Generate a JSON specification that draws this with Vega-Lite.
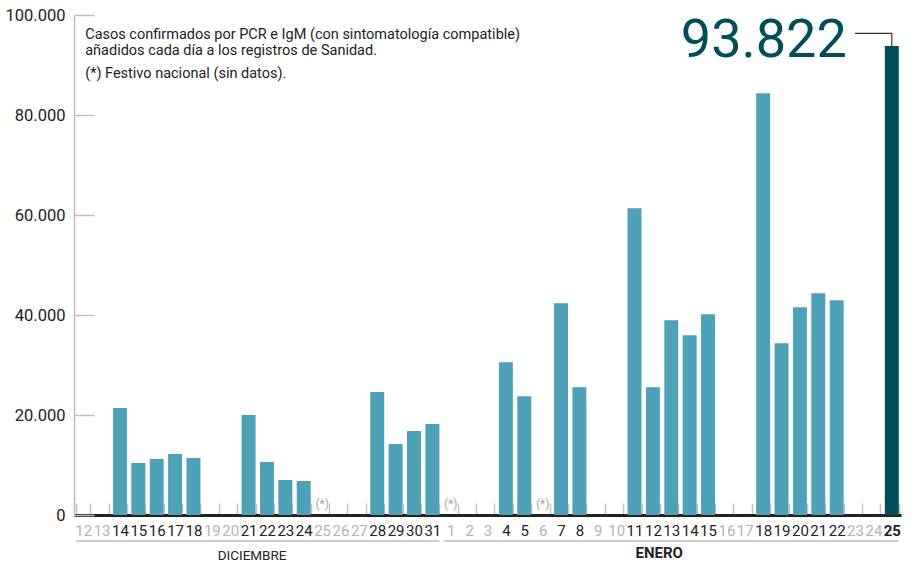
{
  "$schema": "https://vega.github.io/schema/vega-lite/v6.json",
  "width": 827,
  "height": 500,
  "autosize": {"type": "none"},
  "padding": {"left": 74, "top": 15, "right": 17, "bottom": 47},
  "background": "white",
  "config": {"view": {"stroke": null}, "font": "Roboto"},
  "data": {"values": [
    {"fecha": "2020-12-12", "casos": null},
    {"fecha": "2020-12-13", "casos": null},
    {"fecha": "2020-12-14", "casos": 21400},
    {"fecha": "2020-12-15", "casos": 10400},
    {"fecha": "2020-12-16", "casos": 11200},
    {"fecha": "2020-12-17", "casos": 12200},
    {"fecha": "2020-12-18", "casos": 11400},
    {"fecha": "2020-12-19", "casos": null},
    {"fecha": "2020-12-20", "casos": null},
    {"fecha": "2020-12-21", "casos": 20000},
    {"fecha": "2020-12-22", "casos": 10600},
    {"fecha": "2020-12-23", "casos": 7000},
    {"fecha": "2020-12-24", "casos": 6800},
    {"fecha": "2020-12-25", "casos": null, "festivo": true},
    {"fecha": "2020-12-26", "casos": null},
    {"fecha": "2020-12-27", "casos": null},
    {"fecha": "2020-12-28", "casos": 24600},
    {"fecha": "2020-12-29", "casos": 14200},
    {"fecha": "2020-12-30", "casos": 16800},
    {"fecha": "2020-12-31", "casos": 18200},
    {"fecha": "2021-01-01", "casos": null, "festivo": true},
    {"fecha": "2021-01-02", "casos": null},
    {"fecha": "2021-01-03", "casos": null},
    {"fecha": "2021-01-04", "casos": 30540},
    {"fecha": "2021-01-05", "casos": 23740},
    {"fecha": "2021-01-06", "casos": null, "festivo": true},
    {"fecha": "2021-01-07", "casos": 42340},
    {"fecha": "2021-01-08", "casos": 25540},
    {"fecha": "2021-01-09", "casos": null},
    {"fecha": "2021-01-10", "casos": null},
    {"fecha": "2021-01-11", "casos": 61340},
    {"fecha": "2021-01-12", "casos": 25540},
    {"fecha": "2021-01-13", "casos": 38940},
    {"fecha": "2021-01-14", "casos": 35940},
    {"fecha": "2021-01-15", "casos": 40140},
    {"fecha": "2021-01-16", "casos": null},
    {"fecha": "2021-01-17", "casos": null},
    {"fecha": "2021-01-18", "casos": 84340},
    {"fecha": "2021-01-19", "casos": 34340},
    {"fecha": "2021-01-20", "casos": 41540},
    {"fecha": "2021-01-21", "casos": 44340},
    {"fecha": "2021-01-22", "casos": 42940},
    {"fecha": "2021-01-23", "casos": null},
    {"fecha": "2021-01-24", "casos": null},
    {"fecha": "2021-01-25", "casos": 93822}
  ]},
  "layer": [
    {
      "mark": {"type": "bar", "clip": false},
      "encoding": {
        "x": {
          "field": "fecha", "type": "ordinal", "title": null,
          "scale": {
            "domain": ["2020-12-12","2020-12-13","2020-12-14","2020-12-15","2020-12-16","2020-12-17","2020-12-18","2020-12-19","2020-12-20","2020-12-21","2020-12-22","2020-12-23","2020-12-24","2020-12-25","2020-12-26","2020-12-27","2020-12-28","2020-12-29","2020-12-30","2020-12-31","2021-01-01","2021-01-02","2021-01-03","2021-01-04","2021-01-05","2021-01-06","2021-01-07","2021-01-08","2021-01-09","2021-01-10","2021-01-11","2021-01-12","2021-01-13","2021-01-14","2021-01-15","2021-01-16","2021-01-17","2021-01-18","2021-01-19","2021-01-20","2021-01-21","2021-01-22","2021-01-23","2021-01-24","2021-01-25"],
            "paddingInner": 0.24, "paddingOuter": 0.12
          },
          "axis": {
            "labelExpr": "toNumber(split(datum.value, '-')[2])",
            "labelAngle": 0,
            "labelFont": "Roboto",
            "labelFontSize": 15,
            "labelPadding": 20,
            "labelColor": {"condition": {"test": "datum.value == '2020-12-12' || datum.value == '2020-12-13' || datum.value == '2020-12-19' || datum.value == '2020-12-20' || datum.value == '2020-12-25' || datum.value == '2020-12-26' || datum.value == '2020-12-27' || datum.value == '2021-01-01' || datum.value == '2021-01-02' || datum.value == '2021-01-03' || datum.value == '2021-01-06' || datum.value == '2021-01-09' || datum.value == '2021-01-10' || datum.value == '2021-01-16' || datum.value == '2021-01-17' || datum.value == '2021-01-23' || datum.value == '2021-01-24'", "value": "#b3b3b3"}, "value": "#222222"},
            "labelFontWeight": {"condition": {"test": "datum.value == '2021-01-25'", "value": "bold"}, "value": "normal"},
            "domainColor": "#222222",
            "domainWidth": 3,
            "tickBand": "extent",
            "tickSize": -12,
            "tickColor": "#c4c4c4",
            "tickWidth": 1.5,
            "labelOverlap": false,
            "labelBound": false,
            "zindex": 0
          }
        },
        "y": {
          "field": "casos", "type": "quantitative", "title": null,
          "scale": {"domain": [0, 100000], "nice": false},
          "axis": {
            "values": [0, 20000, 40000, 60000, 80000, 100000],
            "labelExpr": "datum.value == 0 ? '0' : format(datum.value / 1000, 'd') + '.000'",
            "labelFont": "Roboto",
            "labelFontSize": 16.5,
            "labelColor": "#222222",
            "labelPadding": 29,
            "tickSize": -20,
            "tickColor": "#bdbdbd",
            "tickWidth": 1.5,
            "domainColor": "#bdbdbd",
            "domainWidth": 1.5,
            "grid": false,
            "zindex": 0
          }
        },
        "color": {
          "condition": {"test": "datum.fecha == '2021-01-25'", "value": "#004e5a"},
          "value": "#4ea1b7"
        }
      }
    },
    {
      "transform": [{"filter": "datum.festivo"}],
      "mark": {"type": "text", "fontSize": 12, "color": "#a6a6a6", "baseline": "middle", "dy": -11, "font": "Roboto"},
      "encoding": {
        "x": {"field": "fecha", "type": "ordinal"},
        "y": {"datum": 0},
        "text": {"value": "(*)"}
      }
    },
    {
      "data": {"values": [
        {"mes": "DICIEMBRE", "inicio": "2020-12-12", "fin": "2020-12-31"},
        {"mes": "ENERO", "inicio": "2021-01-01", "fin": "2021-01-25"}
      ]},
      "mark": {"type": "rule", "color": "#cccccc", "strokeWidth": 2, "clip": false},
      "encoding": {
        "x": {"field": "inicio", "type": "ordinal", "bandPosition": 0},
        "x2": {"field": "fin", "bandPosition": 1},
        "y": {"datum": -5200}
      }
    },
    {
      "data": {"values": [{"mes": "DICIEMBRE"}]},
      "mark": {"type": "text", "fontSize": 13.5, "color": "#222222", "baseline": "middle", "align": "center", "font": "Roboto", "clip": false},
      "encoding": {
        "x": {"datum": "2020-12-21", "bandPosition": 0.75},
        "y": {"datum": -8150},
        "text": {"field": "mes"}
      }
    },
    {
      "data": {"values": [{"mes": "ENERO"}]},
      "mark": {"type": "text", "fontSize": 15, "fontWeight": "bold", "color": "#222222", "baseline": "middle", "align": "center", "font": "Roboto", "clip": false},
      "encoding": {
        "x": {"datum": "2021-01-12", "bandPosition": 0.95},
        "y": {"datum": -7500},
        "text": {"field": "mes"}
      }
    },
    {
      "data": {"values": [
        {"linea": "Casos confirmados por PCR e IgM (con sintomatología compatible)"}
      ]},
      "mark": {"type": "text", "fontSize": 14.5, "color": "#222222", "align": "left", "baseline": "alphabetic", "dx": 2, "font": "Roboto"},
      "encoding": {
        "x": {"datum": "2020-12-12"},
        "y": {"datum": 95300},
        "text": {"field": "linea"}
      }
    },
    {
      "data": {"values": [
        {"linea": "añadidos cada día a los registros de Sanidad."}
      ]},
      "mark": {"type": "text", "fontSize": 14.5, "color": "#222222", "align": "left", "baseline": "alphabetic", "dx": 2, "font": "Roboto"},
      "encoding": {
        "x": {"datum": "2020-12-12"},
        "y": {"datum": 92000},
        "text": {"field": "linea"}
      }
    },
    {
      "data": {"values": [
        {"linea": "(*) Festivo nacional (sin datos)."}
      ]},
      "mark": {"type": "text", "fontSize": 14.5, "color": "#222222", "align": "left", "baseline": "alphabetic", "dx": 2, "font": "Roboto"},
      "encoding": {
        "x": {"datum": "2020-12-12"},
        "y": {"datum": 87400},
        "text": {"field": "linea"}
      }
    },
    {
      "data": {"values": [{"desde": "2021-01-23", "hasta": "2021-01-25"}]},
      "mark": {"type": "rule", "color": "#333333", "strokeWidth": 1.2},
      "encoding": {
        "x": {"field": "desde", "type": "ordinal"},
        "x2": {"field": "hasta"},
        "y": {"datum": 96340}
      }
    },
    {
      "data": {"values": [{"fecha": "2021-01-25", "casos": 93822}]},
      "mark": {"type": "rule", "color": "#333333", "strokeWidth": 1.2},
      "encoding": {
        "x": {"field": "fecha", "type": "ordinal"},
        "y": {"field": "casos", "type": "quantitative"},
        "y2": {"datum": 96340}
      }
    },
    {
      "data": {"values": [{"fecha": "2021-01-25", "casos": 93822}]},
      "mark": {"type": "text", "fontSize": 54, "color": "#004e5a", "align": "right", "baseline": "alphabetic", "dx": -45, "dy": 11, "font": "Roboto", "clip": false},
      "encoding": {
        "x": {"field": "fecha", "type": "ordinal"},
        "y": {"field": "casos", "type": "quantitative"},
        "text": {"value": "93.822"}
      }
    }
  ]
}
